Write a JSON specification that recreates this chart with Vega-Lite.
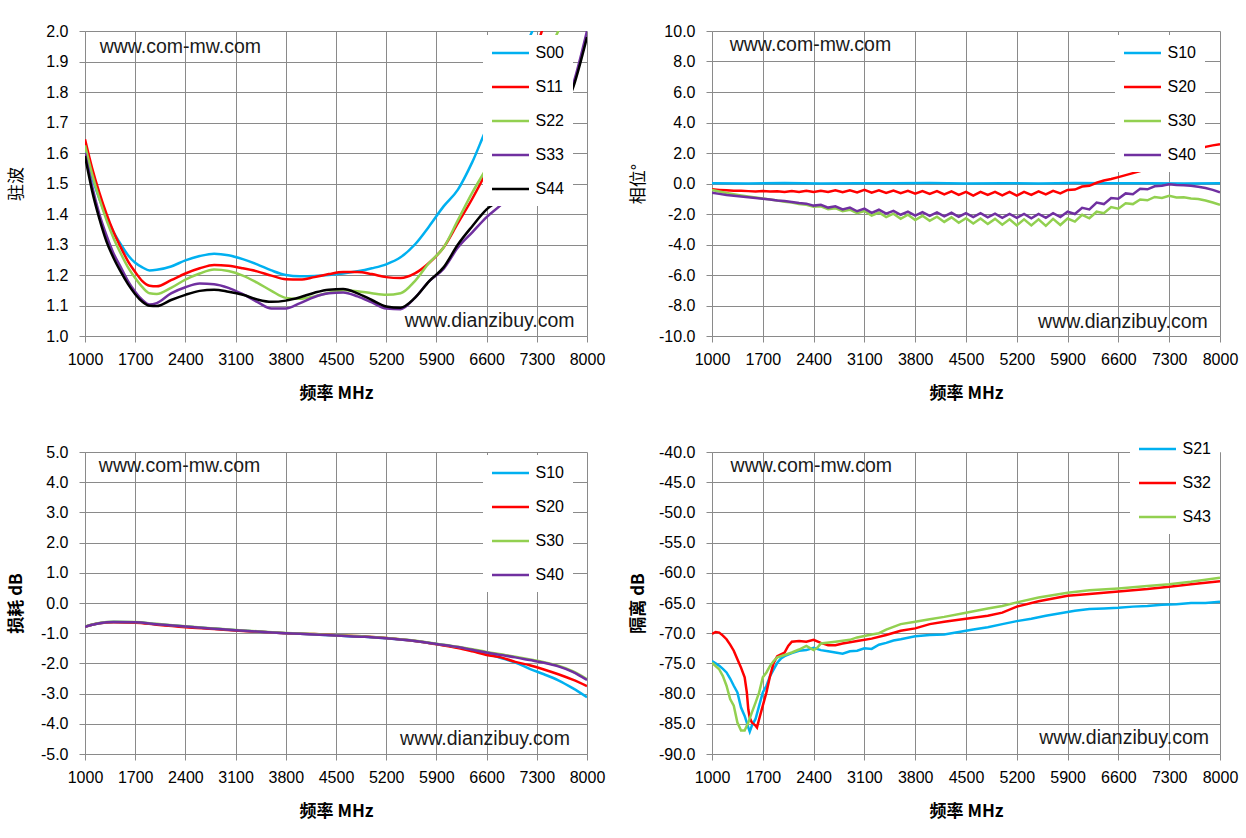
{
"$schema": "https://vega.github.io/schema/vega-lite/v6.json",
"background": "white",
"padding": {"left": 7, "top": 23, "right": 5, "bottom": 5},
"bounds": "flush",
"columns": 2,
"spacing": {"row": 116, "column": 125},
"resolve": {"scale": {"color": "independent"}, "legend": {"color": "independent"}},
"config": {
  "view": {"stroke": null},
  "axis": {"grid": true, "gridColor": "#8a8a8a", "gridWidth": 1, "domainColor": "#8a8a8a", "domainWidth": 1, "tickColor": "#8a8a8a", "tickSize": 6, "tickCount": 11, "labelFont": "Liberation Sans", "labelFontSize": 16, "labelColor": "#000000", "labelPadding": 9, "labelFlush": false, "labelOverlap": false, "titleFont": "Noto Sans CJK SC", "titleFontSize": 17, "titleFontWeight": "bold", "titleColor": "#000000"},
  "axisX": {"minExtent": 31, "maxExtent": 31, "titlePadding": 18},
  "axisY": {"labelPadding": 11},
  "legend": {"fillColor": "white", "padding": 9, "rowPadding": 17, "symbolType": "M-2.5,0H2.5", "symbolSize": 219, "symbolOffset": 9.5, "symbolStrokeWidth": 2.5, "labelFont": "Liberation Sans", "labelFontSize": 16, "labelColor": "#000000", "labelOffset": 16, "title": null}
},
"datasets": {
"vswr": [
{"s":"S00","f":1000,"v":1.61},{"s":"S00","f":1100,"v":1.52},{"s":"S00","f":1200,"v":1.45},{"s":"S00","f":1300,"v":1.39},{"s":"S00","f":1400,"v":1.34},{"s":"S00","f":1500,"v":1.30},{"s":"S00","f":1600,"v":1.265},{"s":"S00","f":1700,"v":1.24},{"s":"S00","f":1800,"v":1.225},{"s":"S00","f":1900,"v":1.215},{"s":"S00","f":2000,"v":1.217},{"s":"S00","f":2200,"v":1.228},{"s":"S00","f":2400,"v":1.248},{"s":"S00","f":2600,"v":1.262},{"s":"S00","f":2800,"v":1.27},{"s":"S00","f":3000,"v":1.265},{"s":"S00","f":3200,"v":1.252},{"s":"S00","f":3400,"v":1.235},{"s":"S00","f":3600,"v":1.215},{"s":"S00","f":3800,"v":1.2},{"s":"S00","f":4000,"v":1.196},{"s":"S00","f":4200,"v":1.197},{"s":"S00","f":4400,"v":1.2},{"s":"S00","f":4600,"v":1.205},{"s":"S00","f":4800,"v":1.212},{"s":"S00","f":5000,"v":1.222},{"s":"S00","f":5200,"v":1.235},{"s":"S00","f":5400,"v":1.258},{"s":"S00","f":5600,"v":1.3},{"s":"S00","f":5800,"v":1.36},{"s":"S00","f":6000,"v":1.425},{"s":"S00","f":6200,"v":1.48},{"s":"S00","f":6400,"v":1.57},{"s":"S00","f":6600,"v":1.68},{"s":"S00","f":6800,"v":1.77},{"s":"S00","f":7000,"v":1.87},{"s":"S00","f":7200,"v":1.98},{"s":"S00","f":7400,"v":2.08},{"s":"S00","f":7600,"v":2.18},{"s":"S00","f":7800,"v":2.28},{"s":"S00","f":8000,"v":2.38},
{"s":"S11","f":1000,"v":1.645},{"s":"S11","f":1100,"v":1.55},{"s":"S11","f":1200,"v":1.47},{"s":"S11","f":1300,"v":1.40},{"s":"S11","f":1400,"v":1.34},{"s":"S11","f":1500,"v":1.29},{"s":"S11","f":1600,"v":1.245},{"s":"S11","f":1700,"v":1.21},{"s":"S11","f":1800,"v":1.18},{"s":"S11","f":1900,"v":1.165},{"s":"S11","f":2000,"v":1.163},{"s":"S11","f":2200,"v":1.183},{"s":"S11","f":2400,"v":1.205},{"s":"S11","f":2600,"v":1.222},{"s":"S11","f":2800,"v":1.233},{"s":"S11","f":3000,"v":1.23},{"s":"S11","f":3200,"v":1.222},{"s":"S11","f":3400,"v":1.212},{"s":"S11","f":3600,"v":1.198},{"s":"S11","f":3800,"v":1.186},{"s":"S11","f":4000,"v":1.185},{"s":"S11","f":4200,"v":1.193},{"s":"S11","f":4400,"v":1.203},{"s":"S11","f":4600,"v":1.21},{"s":"S11","f":4800,"v":1.21},{"s":"S11","f":5000,"v":1.203},{"s":"S11","f":5200,"v":1.193},{"s":"S11","f":5400,"v":1.19},{"s":"S11","f":5600,"v":1.205},{"s":"S11","f":5800,"v":1.24},{"s":"S11","f":6000,"v":1.29},{"s":"S11","f":6200,"v":1.37},{"s":"S11","f":6400,"v":1.45},{"s":"S11","f":6600,"v":1.54},{"s":"S11","f":6800,"v":1.65},{"s":"S11","f":7000,"v":1.76},{"s":"S11","f":7200,"v":1.88},{"s":"S11","f":7400,"v":2.02},{"s":"S11","f":7600,"v":2.15},{"s":"S11","f":7800,"v":2.28},{"s":"S11","f":8000,"v":2.4},
{"s":"S22","f":1000,"v":1.625},{"s":"S22","f":1100,"v":1.53},{"s":"S22","f":1200,"v":1.45},{"s":"S22","f":1300,"v":1.38},{"s":"S22","f":1400,"v":1.32},{"s":"S22","f":1500,"v":1.27},{"s":"S22","f":1600,"v":1.225},{"s":"S22","f":1700,"v":1.19},{"s":"S22","f":1800,"v":1.16},{"s":"S22","f":1900,"v":1.14},{"s":"S22","f":2000,"v":1.138},{"s":"S22","f":2200,"v":1.158},{"s":"S22","f":2400,"v":1.185},{"s":"S22","f":2600,"v":1.205},{"s":"S22","f":2800,"v":1.218},{"s":"S22","f":3000,"v":1.213},{"s":"S22","f":3200,"v":1.198},{"s":"S22","f":3400,"v":1.175},{"s":"S22","f":3600,"v":1.148},{"s":"S22","f":3800,"v":1.125},{"s":"S22","f":4000,"v":1.122},{"s":"S22","f":4200,"v":1.13},{"s":"S22","f":4400,"v":1.142},{"s":"S22","f":4600,"v":1.15},{"s":"S22","f":4800,"v":1.147},{"s":"S22","f":5000,"v":1.14},{"s":"S22","f":5200,"v":1.135},{"s":"S22","f":5400,"v":1.14},{"s":"S22","f":5600,"v":1.18},{"s":"S22","f":5800,"v":1.24},{"s":"S22","f":6000,"v":1.29},{"s":"S22","f":6200,"v":1.38},{"s":"S22","f":6400,"v":1.47},{"s":"S22","f":6600,"v":1.55},{"s":"S22","f":6800,"v":1.63},{"s":"S22","f":7000,"v":1.72},{"s":"S22","f":7200,"v":1.81},{"s":"S22","f":7400,"v":1.9},{"s":"S22","f":7600,"v":2.0},{"s":"S22","f":7800,"v":2.1},{"s":"S22","f":8000,"v":2.2},
{"s":"S33","f":1000,"v":1.60},{"s":"S33","f":1100,"v":1.49},{"s":"S33","f":1200,"v":1.40},{"s":"S33","f":1300,"v":1.33},{"s":"S33","f":1400,"v":1.27},{"s":"S33","f":1500,"v":1.225},{"s":"S33","f":1600,"v":1.18},{"s":"S33","f":1700,"v":1.145},{"s":"S33","f":1800,"v":1.118},{"s":"S33","f":1900,"v":1.103},{"s":"S33","f":2000,"v":1.108},{"s":"S33","f":2200,"v":1.14},{"s":"S33","f":2400,"v":1.16},{"s":"S33","f":2600,"v":1.172},{"s":"S33","f":2800,"v":1.17},{"s":"S33","f":3000,"v":1.158},{"s":"S33","f":3200,"v":1.137},{"s":"S33","f":3400,"v":1.112},{"s":"S33","f":3600,"v":1.09},{"s":"S33","f":3800,"v":1.09},{"s":"S33","f":4000,"v":1.108},{"s":"S33","f":4200,"v":1.128},{"s":"S33","f":4400,"v":1.14},{"s":"S33","f":4600,"v":1.143},{"s":"S33","f":4800,"v":1.13},{"s":"S33","f":5000,"v":1.11},{"s":"S33","f":5200,"v":1.09},{"s":"S33","f":5400,"v":1.088},{"s":"S33","f":5600,"v":1.125},{"s":"S33","f":5800,"v":1.18},{"s":"S33","f":6000,"v":1.22},{"s":"S33","f":6200,"v":1.29},{"s":"S33","f":6400,"v":1.34},{"s":"S33","f":6600,"v":1.39},{"s":"S33","f":6800,"v":1.43},{"s":"S33","f":7000,"v":1.48},{"s":"S33","f":7200,"v":1.54},{"s":"S33","f":7400,"v":1.61},{"s":"S33","f":7600,"v":1.7},{"s":"S33","f":7800,"v":1.82},{"s":"S33","f":8000,"v":2.0},
{"s":"S44","f":1000,"v":1.59},{"s":"S44","f":1100,"v":1.475},{"s":"S44","f":1200,"v":1.385},{"s":"S44","f":1300,"v":1.31},{"s":"S44","f":1400,"v":1.255},{"s":"S44","f":1500,"v":1.21},{"s":"S44","f":1600,"v":1.17},{"s":"S44","f":1700,"v":1.137},{"s":"S44","f":1800,"v":1.112},{"s":"S44","f":1900,"v":1.099},{"s":"S44","f":2000,"v":1.098},{"s":"S44","f":2200,"v":1.118},{"s":"S44","f":2400,"v":1.135},{"s":"S44","f":2600,"v":1.148},{"s":"S44","f":2800,"v":1.152},{"s":"S44","f":3000,"v":1.145},{"s":"S44","f":3200,"v":1.135},{"s":"S44","f":3400,"v":1.12},{"s":"S44","f":3600,"v":1.112},{"s":"S44","f":3800,"v":1.116},{"s":"S44","f":4000,"v":1.127},{"s":"S44","f":4200,"v":1.142},{"s":"S44","f":4400,"v":1.152},{"s":"S44","f":4600,"v":1.154},{"s":"S44","f":4800,"v":1.14},{"s":"S44","f":5000,"v":1.118},{"s":"S44","f":5200,"v":1.097},{"s":"S44","f":5400,"v":1.093},{"s":"S44","f":5600,"v":1.125},{"s":"S44","f":5800,"v":1.18},{"s":"S44","f":6000,"v":1.225},{"s":"S44","f":6200,"v":1.3},{"s":"S44","f":6400,"v":1.36},{"s":"S44","f":6600,"v":1.415},{"s":"S44","f":6800,"v":1.45},{"s":"S44","f":7000,"v":1.5},{"s":"S44","f":7200,"v":1.56},{"s":"S44","f":7400,"v":1.63},{"s":"S44","f":7600,"v":1.71},{"s":"S44","f":7800,"v":1.81},{"s":"S44","f":8000,"v":1.98}
],
"phase": [
{"s":"S10","f":1000,"v":0.02},{"s":"S10","f":1500,"v":0.0},{"s":"S10","f":2000,"v":0.03},{"s":"S10","f":2500,"v":0.0},{"s":"S10","f":3000,"v":0.02},{"s":"S10","f":3500,"v":0.01},{"s":"S10","f":4000,"v":0.03},{"s":"S10","f":4500,"v":0.0},{"s":"S10","f":5000,"v":0.02},{"s":"S10","f":5500,"v":0.0},{"s":"S10","f":6000,"v":0.03},{"s":"S10","f":6500,"v":0.01},{"s":"S10","f":7000,"v":0.02},{"s":"S10","f":7500,"v":0.0},{"s":"S10","f":8000,"v":0.02},
{"s":"S20","f":1000,"v":-0.38},{"s":"S20","f":1100,"v":-0.42},{"s":"S20","f":1200,"v":-0.45},{"s":"S20","f":1300,"v":-0.47},{"s":"S20","f":1400,"v":-0.48},{"s":"S20","f":1500,"v":-0.5},{"s":"S20","f":1600,"v":-0.52},{"s":"S20","f":1700,"v":-0.5},{"s":"S20","f":1800,"v":-0.53},{"s":"S20","f":1900,"v":-0.51},{"s":"S20","f":2000,"v":-0.55},{"s":"S20","f":2100,"v":-0.5},{"s":"S20","f":2200,"v":-0.55},{"s":"S20","f":2300,"v":-0.48},{"s":"S20","f":2400,"v":-0.55},{"s":"S20","f":2500,"v":-0.47},{"s":"S20","f":2600,"v":-0.56},{"s":"S20","f":2700,"v":-0.45},{"s":"S20","f":2800,"v":-0.57},{"s":"S20","f":2900,"v":-0.44},{"s":"S20","f":3000,"v":-0.58},{"s":"S20","f":3100,"v":-0.42},{"s":"S20","f":3200,"v":-0.6},{"s":"S20","f":3300,"v":-0.45},{"s":"S20","f":3400,"v":-0.62},{"s":"S20","f":3500,"v":-0.46},{"s":"S20","f":3600,"v":-0.63},{"s":"S20","f":3700,"v":-0.48},{"s":"S20","f":3800,"v":-0.66},{"s":"S20","f":3900,"v":-0.5},{"s":"S20","f":4000,"v":-0.68},{"s":"S20","f":4100,"v":-0.5},{"s":"S20","f":4200,"v":-0.72},{"s":"S20","f":4300,"v":-0.52},{"s":"S20","f":4400,"v":-0.75},{"s":"S20","f":4500,"v":-0.55},{"s":"S20","f":4600,"v":-0.8},{"s":"S20","f":4700,"v":-0.55},{"s":"S20","f":4800,"v":-0.75},{"s":"S20","f":4900,"v":-0.55},{"s":"S20","f":5000,"v":-0.78},{"s":"S20","f":5100,"v":-0.55},{"s":"S20","f":5200,"v":-0.8},{"s":"S20","f":5300,"v":-0.55},{"s":"S20","f":5400,"v":-0.75},{"s":"S20","f":5500,"v":-0.52},{"s":"S20","f":5600,"v":-0.72},{"s":"S20","f":5700,"v":-0.48},{"s":"S20","f":5800,"v":-0.65},{"s":"S20","f":5900,"v":-0.42},{"s":"S20","f":6000,"v":-0.4},{"s":"S20","f":6100,"v":-0.2},{"s":"S20","f":6200,"v":-0.15},{"s":"S20","f":6300,"v":0.05},{"s":"S20","f":6400,"v":0.2},{"s":"S20","f":6500,"v":0.3},{"s":"S20","f":6600,"v":0.42},{"s":"S20","f":6700,"v":0.55},{"s":"S20","f":6800,"v":0.68},{"s":"S20","f":6900,"v":0.82},{"s":"S20","f":7000,"v":0.95},{"s":"S20","f":7100,"v":1.1},{"s":"S20","f":7200,"v":1.25},{"s":"S20","f":7300,"v":1.4},{"s":"S20","f":7400,"v":1.55},{"s":"S20","f":7500,"v":1.75},{"s":"S20","f":7600,"v":1.95},{"s":"S20","f":7700,"v":2.2},{"s":"S20","f":7800,"v":2.4},{"s":"S20","f":7900,"v":2.5},{"s":"S20","f":8000,"v":2.58},
{"s":"S30","f":1000,"v":-0.42},{"s":"S30","f":1100,"v":-0.52},{"s":"S30","f":1200,"v":-0.62},{"s":"S30","f":1300,"v":-0.7},{"s":"S30","f":1400,"v":-0.78},{"s":"S30","f":1500,"v":-0.85},{"s":"S30","f":1600,"v":-0.92},{"s":"S30","f":1700,"v":-0.98},{"s":"S30","f":1800,"v":-1.05},{"s":"S30","f":1900,"v":-1.12},{"s":"S30","f":2000,"v":-1.2},{"s":"S30","f":2100,"v":-1.25},{"s":"S30","f":2200,"v":-1.35},{"s":"S30","f":2300,"v":-1.4},{"s":"S30","f":2400,"v":-1.52},{"s":"S30","f":2500,"v":-1.5},{"s":"S30","f":2600,"v":-1.68},{"s":"S30","f":2700,"v":-1.62},{"s":"S30","f":2800,"v":-1.82},{"s":"S30","f":2900,"v":-1.72},{"s":"S30","f":3000,"v":-1.95},{"s":"S30","f":3100,"v":-1.8},{"s":"S30","f":3200,"v":-2.1},{"s":"S30","f":3300,"v":-1.9},{"s":"S30","f":3400,"v":-2.2},{"s":"S30","f":3500,"v":-1.98},{"s":"S30","f":3600,"v":-2.32},{"s":"S30","f":3700,"v":-2.05},{"s":"S30","f":3800,"v":-2.4},{"s":"S30","f":3900,"v":-2.12},{"s":"S30","f":4000,"v":-2.45},{"s":"S30","f":4100,"v":-2.18},{"s":"S30","f":4200,"v":-2.52},{"s":"S30","f":4300,"v":-2.22},{"s":"S30","f":4400,"v":-2.58},{"s":"S30","f":4500,"v":-2.28},{"s":"S30","f":4600,"v":-2.62},{"s":"S30","f":4700,"v":-2.3},{"s":"S30","f":4800,"v":-2.65},{"s":"S30","f":4900,"v":-2.32},{"s":"S30","f":5000,"v":-2.7},{"s":"S30","f":5100,"v":-2.35},{"s":"S30","f":5200,"v":-2.75},{"s":"S30","f":5300,"v":-2.35},{"s":"S30","f":5400,"v":-2.75},{"s":"S30","f":5500,"v":-2.35},{"s":"S30","f":5600,"v":-2.78},{"s":"S30","f":5700,"v":-2.32},{"s":"S30","f":5800,"v":-2.72},{"s":"S30","f":5900,"v":-2.3},{"s":"S30","f":6000,"v":-2.5},{"s":"S30","f":6100,"v":-2.05},{"s":"S30","f":6200,"v":-2.28},{"s":"S30","f":6300,"v":-1.85},{"s":"S30","f":6400,"v":-1.95},{"s":"S30","f":6500,"v":-1.55},{"s":"S30","f":6600,"v":-1.65},{"s":"S30","f":6700,"v":-1.3},{"s":"S30","f":6800,"v":-1.35},{"s":"S30","f":6900,"v":-1.05},{"s":"S30","f":7000,"v":-1.1},{"s":"S30","f":7100,"v":-0.88},{"s":"S30","f":7200,"v":-0.95},{"s":"S30","f":7300,"v":-0.8},{"s":"S30","f":7400,"v":-0.92},{"s":"S30","f":7500,"v":-0.9},{"s":"S30","f":7600,"v":-0.98},{"s":"S30","f":7700,"v":-1.02},{"s":"S30","f":7800,"v":-1.12},{"s":"S30","f":7900,"v":-1.25},{"s":"S30","f":8000,"v":-1.4},
{"s":"S40","f":1000,"v":-0.6},{"s":"S40","f":1100,"v":-0.68},{"s":"S40","f":1200,"v":-0.75},{"s":"S40","f":1300,"v":-0.8},{"s":"S40","f":1400,"v":-0.85},{"s":"S40","f":1500,"v":-0.9},{"s":"S40","f":1600,"v":-0.95},{"s":"S40","f":1700,"v":-1.0},{"s":"S40","f":1800,"v":-1.05},{"s":"S40","f":1900,"v":-1.12},{"s":"S40","f":2000,"v":-1.15},{"s":"S40","f":2100,"v":-1.22},{"s":"S40","f":2200,"v":-1.28},{"s":"S40","f":2300,"v":-1.32},{"s":"S40","f":2400,"v":-1.45},{"s":"S40","f":2500,"v":-1.4},{"s":"S40","f":2600,"v":-1.58},{"s":"S40","f":2700,"v":-1.5},{"s":"S40","f":2800,"v":-1.7},{"s":"S40","f":2900,"v":-1.58},{"s":"S40","f":3000,"v":-1.82},{"s":"S40","f":3100,"v":-1.65},{"s":"S40","f":3200,"v":-1.92},{"s":"S40","f":3300,"v":-1.72},{"s":"S40","f":3400,"v":-1.98},{"s":"S40","f":3500,"v":-1.8},{"s":"S40","f":3600,"v":-2.05},{"s":"S40","f":3700,"v":-1.85},{"s":"S40","f":3800,"v":-2.1},{"s":"S40","f":3900,"v":-1.88},{"s":"S40","f":4000,"v":-2.12},{"s":"S40","f":4100,"v":-1.9},{"s":"S40","f":4200,"v":-2.15},{"s":"S40","f":4300,"v":-1.92},{"s":"S40","f":4400,"v":-2.18},{"s":"S40","f":4500,"v":-1.95},{"s":"S40","f":4600,"v":-2.2},{"s":"S40","f":4700,"v":-1.95},{"s":"S40","f":4800,"v":-2.22},{"s":"S40","f":4900,"v":-1.98},{"s":"S40","f":5000,"v":-2.25},{"s":"S40","f":5100,"v":-2.0},{"s":"S40","f":5200,"v":-2.25},{"s":"S40","f":5300,"v":-2.0},{"s":"S40","f":5400,"v":-2.28},{"s":"S40","f":5500,"v":-2.0},{"s":"S40","f":5600,"v":-2.25},{"s":"S40","f":5700,"v":-1.95},{"s":"S40","f":5800,"v":-2.2},{"s":"S40","f":5900,"v":-1.85},{"s":"S40","f":6000,"v":-2.0},{"s":"S40","f":6100,"v":-1.6},{"s":"S40","f":6200,"v":-1.7},{"s":"S40","f":6300,"v":-1.25},{"s":"S40","f":6400,"v":-1.35},{"s":"S40","f":6500,"v":-0.95},{"s":"S40","f":6600,"v":-1.0},{"s":"S40","f":6700,"v":-0.65},{"s":"S40","f":6800,"v":-0.7},{"s":"S40","f":6900,"v":-0.35},{"s":"S40","f":7000,"v":-0.38},{"s":"S40","f":7100,"v":-0.18},{"s":"S40","f":7200,"v":-0.15},{"s":"S40","f":7300,"v":-0.05},{"s":"S40","f":7400,"v":-0.1},{"s":"S40","f":7500,"v":-0.12},{"s":"S40","f":7600,"v":-0.15},{"s":"S40","f":7700,"v":-0.22},{"s":"S40","f":7800,"v":-0.3},{"s":"S40","f":7900,"v":-0.42},{"s":"S40","f":8000,"v":-0.58}
],
"loss": [
{"s":"S10","f":1000,"v":-0.79},{"s":"S10","f":1100,"v":-0.72},{"s":"S10","f":1200,"v":-0.67},{"s":"S10","f":1400,"v":-0.63},{"s":"S10","f":1700,"v":-0.64},{"s":"S10","f":2000,"v":-0.7},{"s":"S10","f":2400,"v":-0.78},{"s":"S10","f":2800,"v":-0.85},{"s":"S10","f":3100,"v":-0.9},{"s":"S10","f":3500,"v":-0.96},{"s":"S10","f":3800,"v":-1.0},{"s":"S10","f":4200,"v":-1.04},{"s":"S10","f":4500,"v":-1.08},{"s":"S10","f":4900,"v":-1.12},{"s":"S10","f":5200,"v":-1.17},{"s":"S10","f":5600,"v":-1.26},{"s":"S10","f":5900,"v":-1.36},{"s":"S10","f":6200,"v":-1.47},{"s":"S10","f":6400,"v":-1.56},{"s":"S10","f":6600,"v":-1.68},{"s":"S10","f":6800,"v":-1.82},{"s":"S10","f":7000,"v":-1.97},{"s":"S10","f":7200,"v":-2.18},{"s":"S10","f":7400,"v":-2.36},{"s":"S10","f":7600,"v":-2.56},{"s":"S10","f":7800,"v":-2.82},{"s":"S10","f":8000,"v":-3.12},
{"s":"S20","f":1000,"v":-0.79},{"s":"S20","f":1100,"v":-0.72},{"s":"S20","f":1200,"v":-0.67},{"s":"S20","f":1400,"v":-0.64},{"s":"S20","f":1700,"v":-0.65},{"s":"S20","f":2000,"v":-0.72},{"s":"S20","f":2400,"v":-0.8},{"s":"S20","f":2800,"v":-0.86},{"s":"S20","f":3100,"v":-0.91},{"s":"S20","f":3500,"v":-0.96},{"s":"S20","f":3800,"v":-1.0},{"s":"S20","f":4200,"v":-1.03},{"s":"S20","f":4500,"v":-1.07},{"s":"S20","f":4900,"v":-1.11},{"s":"S20","f":5200,"v":-1.16},{"s":"S20","f":5600,"v":-1.26},{"s":"S20","f":5900,"v":-1.37},{"s":"S20","f":6200,"v":-1.49},{"s":"S20","f":6400,"v":-1.6},{"s":"S20","f":6600,"v":-1.72},{"s":"S20","f":6800,"v":-1.8},{"s":"S20","f":7000,"v":-1.95},{"s":"S20","f":7200,"v":-2.06},{"s":"S20","f":7400,"v":-2.2},{"s":"S20","f":7600,"v":-2.36},{"s":"S20","f":7800,"v":-2.54},{"s":"S20","f":8000,"v":-2.75},
{"s":"S30","f":1000,"v":-0.78},{"s":"S30","f":1100,"v":-0.71},{"s":"S30","f":1200,"v":-0.66},{"s":"S30","f":1400,"v":-0.62},{"s":"S30","f":1700,"v":-0.63},{"s":"S30","f":2000,"v":-0.69},{"s":"S30","f":2400,"v":-0.77},{"s":"S30","f":2800,"v":-0.84},{"s":"S30","f":3100,"v":-0.89},{"s":"S30","f":3500,"v":-0.95},{"s":"S30","f":3800,"v":-0.99},{"s":"S30","f":4200,"v":-1.03},{"s":"S30","f":4500,"v":-1.07},{"s":"S30","f":4900,"v":-1.11},{"s":"S30","f":5200,"v":-1.16},{"s":"S30","f":5600,"v":-1.25},{"s":"S30","f":5900,"v":-1.35},{"s":"S30","f":6200,"v":-1.45},{"s":"S30","f":6400,"v":-1.53},{"s":"S30","f":6600,"v":-1.62},{"s":"S30","f":6800,"v":-1.7},{"s":"S30","f":7000,"v":-1.78},{"s":"S30","f":7200,"v":-1.87},{"s":"S30","f":7400,"v":-1.96},{"s":"S30","f":7600,"v":-2.08},{"s":"S30","f":7800,"v":-2.26},{"s":"S30","f":8000,"v":-2.52},
{"s":"S40","f":1000,"v":-0.79},{"s":"S40","f":1100,"v":-0.72},{"s":"S40","f":1200,"v":-0.67},{"s":"S40","f":1400,"v":-0.63},{"s":"S40","f":1700,"v":-0.64},{"s":"S40","f":2000,"v":-0.7},{"s":"S40","f":2400,"v":-0.78},{"s":"S40","f":2800,"v":-0.85},{"s":"S40","f":3100,"v":-0.9},{"s":"S40","f":3500,"v":-0.96},{"s":"S40","f":3800,"v":-1.0},{"s":"S40","f":4200,"v":-1.04},{"s":"S40","f":4500,"v":-1.08},{"s":"S40","f":4900,"v":-1.12},{"s":"S40","f":5200,"v":-1.17},{"s":"S40","f":5600,"v":-1.26},{"s":"S40","f":5900,"v":-1.36},{"s":"S40","f":6200,"v":-1.46},{"s":"S40","f":6400,"v":-1.55},{"s":"S40","f":6600,"v":-1.64},{"s":"S40","f":6800,"v":-1.72},{"s":"S40","f":7000,"v":-1.8},{"s":"S40","f":7200,"v":-1.89},{"s":"S40","f":7400,"v":-1.98},{"s":"S40","f":7600,"v":-2.1},{"s":"S40","f":7800,"v":-2.28},{"s":"S40","f":8000,"v":-2.55}
],
"iso": [
{"s":"S21","f":1000,"v":-74.6},{"s":"S21","f":1050,"v":-75.0},{"s":"S21","f":1100,"v":-75.4},{"s":"S21","f":1150,"v":-75.9},{"s":"S21","f":1200,"v":-76.5},{"s":"S21","f":1250,"v":-77.5},{"s":"S21","f":1300,"v":-78.7},{"s":"S21","f":1350,"v":-79.8},{"s":"S21","f":1400,"v":-82.3},{"s":"S21","f":1450,"v":-83.7},{"s":"S21","f":1480,"v":-84.8},{"s":"S21","f":1500,"v":-85.6},{"s":"S21","f":1520,"v":-86.3},{"s":"S21","f":1550,"v":-85.3},{"s":"S21","f":1600,"v":-84.2},{"s":"S21","f":1650,"v":-82.0},{"s":"S21","f":1700,"v":-79.8},{"s":"S21","f":1750,"v":-78.7},{"s":"S21","f":1800,"v":-77.1},{"s":"S21","f":1850,"v":-76.0},{"s":"S21","f":1900,"v":-74.9},{"s":"S21","f":1950,"v":-74.2},{"s":"S21","f":2000,"v":-73.8},{"s":"S21","f":2100,"v":-73.3},{"s":"S21","f":2200,"v":-72.9},{"s":"S21","f":2300,"v":-72.8},{"s":"S21","f":2400,"v":-72.4},{"s":"S21","f":2500,"v":-72.8},{"s":"S21","f":2600,"v":-73.0},{"s":"S21","f":2700,"v":-73.2},{"s":"S21","f":2800,"v":-73.4},{"s":"S21","f":2900,"v":-73.0},{"s":"S21","f":3000,"v":-72.9},{"s":"S21","f":3100,"v":-72.5},{"s":"S21","f":3200,"v":-72.6},{"s":"S21","f":3300,"v":-71.9},{"s":"S21","f":3400,"v":-71.6},{"s":"S21","f":3500,"v":-71.2},{"s":"S21","f":3600,"v":-71.0},{"s":"S21","f":3800,"v":-70.5},{"s":"S21","f":4000,"v":-70.3},{"s":"S21","f":4200,"v":-70.2},{"s":"S21","f":4400,"v":-69.8},{"s":"S21","f":4600,"v":-69.4},{"s":"S21","f":4800,"v":-69.0},{"s":"S21","f":5000,"v":-68.5},{"s":"S21","f":5200,"v":-68.0},{"s":"S21","f":5400,"v":-67.6},{"s":"S21","f":5600,"v":-67.1},{"s":"S21","f":5800,"v":-66.7},{"s":"S21","f":6000,"v":-66.3},{"s":"S21","f":6200,"v":-66.0},{"s":"S21","f":6400,"v":-65.9},{"s":"S21","f":6600,"v":-65.8},{"s":"S21","f":6800,"v":-65.6},{"s":"S21","f":7000,"v":-65.5},{"s":"S21","f":7200,"v":-65.3},{"s":"S21","f":7400,"v":-65.2},{"s":"S21","f":7600,"v":-65.0},{"s":"S21","f":7800,"v":-65.0},{"s":"S21","f":8000,"v":-64.8},
{"s":"S32","f":1000,"v":-70.1},{"s":"S32","f":1050,"v":-69.8},{"s":"S32","f":1100,"v":-69.9},{"s":"S32","f":1150,"v":-70.4},{"s":"S32","f":1200,"v":-71.0},{"s":"S32","f":1250,"v":-71.9},{"s":"S32","f":1300,"v":-72.9},{"s":"S32","f":1350,"v":-74.3},{"s":"S32","f":1400,"v":-75.7},{"s":"S32","f":1450,"v":-77.3},{"s":"S32","f":1480,"v":-79.8},{"s":"S32","f":1500,"v":-82.6},{"s":"S32","f":1520,"v":-84.0},{"s":"S32","f":1550,"v":-84.8},{"s":"S32","f":1600,"v":-85.3},{"s":"S32","f":1620,"v":-85.6},{"s":"S32","f":1650,"v":-84.2},{"s":"S32","f":1700,"v":-82.0},{"s":"S32","f":1750,"v":-79.8},{"s":"S32","f":1800,"v":-77.1},{"s":"S32","f":1850,"v":-74.9},{"s":"S32","f":1900,"v":-73.8},{"s":"S32","f":2000,"v":-73.2},{"s":"S32","f":2050,"v":-72.1},{"s":"S32","f":2100,"v":-71.4},{"s":"S32","f":2200,"v":-71.3},{"s":"S32","f":2300,"v":-71.4},{"s":"S32","f":2400,"v":-71.1},{"s":"S32","f":2500,"v":-71.6},{"s":"S32","f":2600,"v":-72.0},{"s":"S32","f":2700,"v":-72.0},{"s":"S32","f":2800,"v":-71.7},{"s":"S32","f":3000,"v":-71.3},{"s":"S32","f":3200,"v":-70.9},{"s":"S32","f":3400,"v":-70.3},{"s":"S32","f":3600,"v":-69.6},{"s":"S32","f":3800,"v":-69.2},{"s":"S32","f":4000,"v":-68.5},{"s":"S32","f":4200,"v":-68.1},{"s":"S32","f":4500,"v":-67.6},{"s":"S32","f":4800,"v":-67.1},{"s":"S32","f":5000,"v":-66.6},{"s":"S32","f":5200,"v":-65.6},{"s":"S32","f":5500,"v":-64.7},{"s":"S32","f":5900,"v":-63.8},{"s":"S32","f":6200,"v":-63.5},{"s":"S32","f":6600,"v":-63.1},{"s":"S32","f":7000,"v":-62.7},{"s":"S32","f":7300,"v":-62.3},{"s":"S32","f":7600,"v":-61.9},{"s":"S32","f":8000,"v":-61.4},
{"s":"S43","f":1000,"v":-74.9},{"s":"S43","f":1100,"v":-76.0},{"s":"S43","f":1150,"v":-77.1},{"s":"S43","f":1200,"v":-78.7},{"s":"S43","f":1250,"v":-80.9},{"s":"S43","f":1300,"v":-82.0},{"s":"S43","f":1350,"v":-84.8},{"s":"S43","f":1400,"v":-86.1},{"s":"S43","f":1450,"v":-86.1},{"s":"S43","f":1500,"v":-84.8},{"s":"S43","f":1550,"v":-83.1},{"s":"S43","f":1600,"v":-81.5},{"s":"S43","f":1650,"v":-79.8},{"s":"S43","f":1700,"v":-77.3},{"s":"S43","f":1750,"v":-76.5},{"s":"S43","f":1800,"v":-75.4},{"s":"S43","f":1850,"v":-74.6},{"s":"S43","f":1900,"v":-74.0},{"s":"S43","f":2000,"v":-73.6},{"s":"S43","f":2100,"v":-73.2},{"s":"S43","f":2200,"v":-72.7},{"s":"S43","f":2300,"v":-72.1},{"s":"S43","f":2400,"v":-72.8},{"s":"S43","f":2450,"v":-72.4},{"s":"S43","f":2500,"v":-71.7},{"s":"S43","f":2700,"v":-71.4},{"s":"S43","f":2900,"v":-71.1},{"s":"S43","f":3000,"v":-70.7},{"s":"S43","f":3200,"v":-70.2},{"s":"S43","f":3300,"v":-70.0},{"s":"S43","f":3400,"v":-69.4},{"s":"S43","f":3600,"v":-68.5},{"s":"S43","f":3800,"v":-68.1},{"s":"S43","f":4000,"v":-67.7},{"s":"S43","f":4200,"v":-67.3},{"s":"S43","f":4500,"v":-66.6},{"s":"S43","f":4800,"v":-65.9},{"s":"S43","f":5000,"v":-65.5},{"s":"S43","f":5200,"v":-64.9},{"s":"S43","f":5500,"v":-64.1},{"s":"S43","f":5900,"v":-63.3},{"s":"S43","f":6200,"v":-62.9},{"s":"S43","f":6600,"v":-62.6},{"s":"S43","f":7000,"v":-62.2},{"s":"S43","f":7300,"v":-61.9},{"s":"S43","f":7600,"v":-61.5},{"s":"S43","f":8000,"v":-60.8}
]
},
"concat": [
{
 "width": 502, "height": 305,
 "layer": [
  {"data": {"name": "vswr"},
   "mark": {"type": "line", "clip": true, "strokeWidth": 2.5, "interpolate": "monotone"},
   "encoding": {
    "x": {"field": "f", "type": "quantitative", "scale": {"domain": [1000, 8000], "nice": false, "zero": false}, "axis": {"values": [1000,1700,2400,3100,3800,4500,5200,5900,6600,7300,8000], "format": "d", "title": "频率 MHz"}},
    "y": {"field": "v", "type": "quantitative", "scale": {"domain": [1, 2], "nice": false, "zero": false}, "axis": {"values": [1,1.1,1.2,1.3,1.4,1.5,1.6,1.7,1.8,1.9,2], "labelExpr": "(datum.value < 0 ? '-' : '') + format(abs(datum.value), '.1f')", "title": "驻波", "titleFontWeight": "normal", "minExtent": 45, "maxExtent": 45, "titlePadding": 15}},
    "color": {"field": "s", "type": "nominal", "scale": {"domain": ["S00","S11","S22","S33","S44"], "range": ["#00B0F0","#FF0000","#92D050","#7030A0","#000000"]}, "legend": {"orient": "none", "legendX": 398, "legendY": 4}}
   }},
  {"data": {"values": [{"t": "www.com-mw.com"}]},
   "mark": {"type": "text", "align": "left", "baseline": "alphabetic", "font": "Liberation Sans", "fontSize": 19.5, "color": "#1a1a1a"},
   "encoding": {"x": {"datum": 1204, "type": "quantitative"}, "y": {"datum": 1.928, "type": "quantitative"}, "text": {"field": "t"}}},
  {"data": {"values": [{"t": "www.dianzibuy.com"}]},
   "mark": {"type": "text", "align": "left", "baseline": "alphabetic", "font": "Liberation Sans", "fontSize": 19.5, "color": "#1a1a1a"},
   "encoding": {"x": {"datum": 5459, "type": "quantitative"}, "y": {"datum": 1.03, "type": "quantitative"}, "text": {"field": "t"}}}
 ]
},
{
 "width": 508, "height": 305,
 "layer": [
  {"data": {"name": "phase"},
   "mark": {"type": "line", "clip": true, "strokeWidth": 2.5},
   "encoding": {
    "x": {"field": "f", "type": "quantitative", "scale": {"domain": [1000, 8000], "nice": false, "zero": false}, "axis": {"values": [1000,1700,2400,3100,3800,4500,5200,5900,6600,7300,8000], "format": "d", "title": "频率 MHz"}},
    "y": {"field": "v", "type": "quantitative", "scale": {"domain": [-10, 10], "nice": false, "zero": false}, "axis": {"values": [-10,-8,-6,-4,-2,0,2,4,6,8,10], "labelExpr": "(datum.value < 0 ? '-' : '') + format(abs(datum.value), '.1f')", "title": "相位°", "titleFontWeight": "normal", "minExtent": 55, "maxExtent": 55, "titlePadding": 10}},
    "color": {"field": "s", "type": "nominal", "scale": {"domain": ["S10","S20","S30","S40"], "range": ["#00B0F0","#FF0000","#92D050","#7030A0"]}, "legend": {"orient": "none", "legendX": 403, "legendY": 4}}
   }},
  {"data": {"values": [{"t": "www.com-mw.com"}]},
   "mark": {"type": "text", "align": "left", "baseline": "alphabetic", "font": "Liberation Sans", "fontSize": 19.5, "color": "#1a1a1a"},
   "encoding": {"x": {"datum": 1244, "type": "quantitative"}, "y": {"datum": 8.68, "type": "quantitative"}, "text": {"field": "t"}}},
  {"data": {"values": [{"t": "www.dianzibuy.com"}]},
   "mark": {"type": "text", "align": "left", "baseline": "alphabetic", "font": "Liberation Sans", "fontSize": 19.5, "color": "#1a1a1a"},
   "encoding": {"x": {"datum": 5493, "type": "quantitative"}, "y": {"datum": -9.47, "type": "quantitative"}, "text": {"field": "t"}}}
 ]
},
{
 "width": 502, "height": 302,
 "layer": [
  {"data": {"name": "loss"},
   "mark": {"type": "line", "clip": true, "strokeWidth": 2.5, "interpolate": "monotone"},
   "encoding": {
    "x": {"field": "f", "type": "quantitative", "scale": {"domain": [1000, 8000], "nice": false, "zero": false}, "axis": {"values": [1000,1700,2400,3100,3800,4500,5200,5900,6600,7300,8000], "format": "d", "title": "频率 MHz"}},
    "y": {"field": "v", "type": "quantitative", "scale": {"domain": [-5, 5], "nice": false, "zero": false}, "axis": {"values": [-5,-4,-3,-2,-1,0,1,2,3,4,5], "labelExpr": "(datum.value < 0 ? '-' : '') + format(abs(datum.value), '.1f')", "title": "损耗 dB", "minExtent": 45, "maxExtent": 45, "titlePadding": 15}},
    "color": {"field": "s", "type": "nominal", "scale": {"domain": ["S10","S20","S30","S40"], "range": ["#00B0F0","#FF0000","#92D050","#7030A0"]}, "legend": {"orient": "none", "legendX": 398, "legendY": 3}}
   }},
  {"data": {"values": [{"t": "www.com-mw.com"}]},
   "mark": {"type": "text", "align": "left", "baseline": "alphabetic", "font": "Liberation Sans", "fontSize": 19.5, "color": "#1a1a1a"},
   "encoding": {"x": {"datum": 1193, "type": "quantitative"}, "y": {"datum": 4.34, "type": "quantitative"}, "text": {"field": "t"}}},
  {"data": {"values": [{"t": "www.dianzibuy.com"}]},
   "mark": {"type": "text", "align": "left", "baseline": "alphabetic", "font": "Liberation Sans", "fontSize": 19.5, "color": "#1a1a1a"},
   "encoding": {"x": {"datum": 5394, "type": "quantitative"}, "y": {"datum": -4.7, "type": "quantitative"}, "text": {"field": "t"}}}
 ]
},
{
 "width": 508, "height": 302,
 "layer": [
  {"data": {"name": "iso"},
   "mark": {"type": "line", "clip": true, "strokeWidth": 2.5},
   "encoding": {
    "x": {"field": "f", "type": "quantitative", "scale": {"domain": [1000, 8000], "nice": false, "zero": false}, "axis": {"values": [1000,1700,2400,3100,3800,4500,5200,5900,6600,7300,8000], "format": "d", "title": "频率 MHz"}},
    "y": {"field": "v", "type": "quantitative", "scale": {"domain": [-90, -40], "nice": false, "zero": false}, "axis": {"values": [-90,-85,-80,-75,-70,-65,-60,-55,-50,-45,-40], "labelExpr": "(datum.value < 0 ? '-' : '') + format(abs(datum.value), '.1f')", "title": "隔离 dB", "minExtent": 55, "maxExtent": 55, "titlePadding": 10}},
    "color": {"field": "s", "type": "nominal", "scale": {"domain": ["S21","S32","S43"], "range": ["#00B0F0","#FF0000","#92D050"]}, "legend": {"orient": "none", "legendX": 418, "legendY": -21}}
   }},
  {"data": {"values": [{"t": "www.com-mw.com"}]},
   "mark": {"type": "text", "align": "left", "baseline": "alphabetic", "font": "Liberation Sans", "fontSize": 19.5, "color": "#1a1a1a"},
   "encoding": {"x": {"datum": 1256, "type": "quantitative"}, "y": {"datum": -43.3, "type": "quantitative"}, "text": {"field": "t"}}},
  {"data": {"values": [{"t": "www.dianzibuy.com"}]},
   "mark": {"type": "text", "align": "left", "baseline": "alphabetic", "font": "Liberation Sans", "fontSize": 19.5, "color": "#1a1a1a"},
   "encoding": {"x": {"datum": 5509, "type": "quantitative"}, "y": {"datum": -88.35, "type": "quantitative"}, "text": {"field": "t"}}}
 ]
}
]
}
